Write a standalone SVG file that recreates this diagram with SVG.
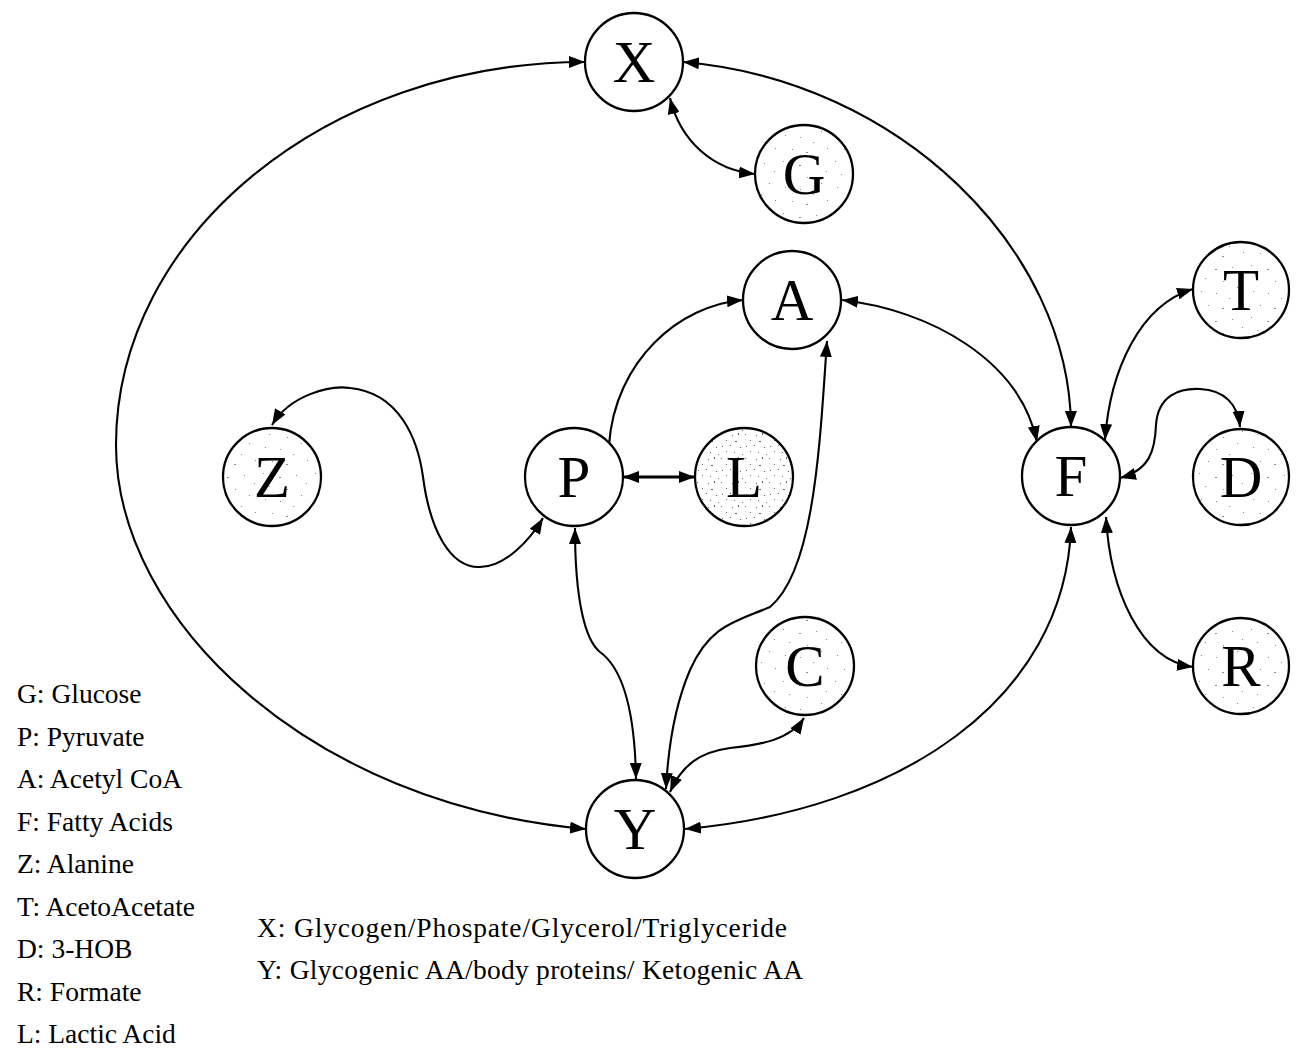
<svg xmlns="http://www.w3.org/2000/svg" width="1300" height="1057" viewBox="0 0 1300 1057">
  <style>
    .node circle { stroke: #000; stroke-width: 2.3; }
    .node text { font-family: "Liberation Serif", "Times New Roman", serif; font-size: 59px; text-anchor: middle; fill: #000; }
    .plain { fill: #fff; }
    .speck { fill: url(#speckle); }
    .dense { fill: url(#speckleDense); }
    .edge { fill: none; stroke: #000; stroke-width: 2.1; marker-end: url(#ah); }
    .both { marker-start: url(#ah); }
    .legend { font-family: "Liberation Serif", "Times New Roman", serif; font-size: 27.5px; fill: #000; }
  </style>
  <defs>
    <marker id="ah" viewBox="0 0 16 12" refX="16" refY="6" markerWidth="16" markerHeight="12" markerUnits="userSpaceOnUse" orient="auto-start-reverse">
      <path d="M0,0 L16,6 L0,12 z" fill="#000"/>
    </marker>
    <!-- light grain used on the outer metabolite nodes -->
    <pattern id="speckle" width="52" height="52" patternUnits="userSpaceOnUse">
      <rect width="52" height="52" fill="#fff"/>
      <g fill="#8a8a8a">
        <rect x="3" y="5" width="1" height="1"/><rect x="19" y="9" width="2" height="1"/>
        <rect x="36" y="7" width="1" height="1"/><rect x="46" y="15" width="1" height="1"/>
        <rect x="9" y="18" width="1" height="1"/><rect x="27" y="21" width="1" height="1"/>
        <rect x="41" y="27" width="1" height="1"/><rect x="5" y="31" width="1" height="1"/>
        <rect x="20" y="33" width="1" height="1"/><rect x="33" y="38" width="1" height="1"/>
        <rect x="12" y="45" width="1" height="1"/><rect x="26" y="48" width="2" height="1"/>
        <rect x="47" y="44" width="1" height="1"/>
      </g>
    </pattern>
    <!-- heavier grain for lactic acid -->
    <pattern id="speckleDense" width="24" height="24" patternUnits="userSpaceOnUse">
      <rect width="24" height="24" fill="#fff"/>
      <g fill="#6a6a6a">
        <rect x="1" y="2" width="1" height="1"/><rect x="12" y="3" width="1" height="1"/>
        <rect x="18" y="1" width="1" height="2"/><rect x="6" y="8" width="1" height="1"/>
        <rect x="15" y="9" width="2" height="1"/><rect x="2" y="14" width="1" height="1"/>
        <rect x="10" y="13" width="1" height="1"/><rect x="20" y="15" width="1" height="1"/>
        <rect x="6" y="19" width="1" height="1"/><rect x="14" y="20" width="1" height="1"/>
        <rect x="22" y="22" width="1" height="1"/>
      </g>
    </pattern>
  </defs>

  <rect width="1300" height="1057" fill="#fff"/>

  <g id="connectors">
    <!-- X <-> Y outer loop -->
    <path class="edge both" d="M585,62 C 326,62 116,236 116,445 C 116,620 310,805 586,829"/>
    <!-- X <-> G -->
    <path class="edge both" d="M670,98 C 680,140 712,170 755,174"/>
    <!-- X <-> F -->
    <path class="edge both" d="M683,62 C 900,80 1070,250 1071,427"/>
    <!-- P -> A -->
    <path class="edge" d="M609,445 C 615,360 680,305 743,300"/>
    <!-- P <-> L -->
    <path class="edge both" d="M623,477 L695,477" style="stroke-width:3.2"/>
    <!-- Z <-> P -->
    <path class="edge both" d="M272,425 C 290,395 330,385 350,388 C 400,393 418,440 423,477 C 430,530 450,568 480,567 C 505,567 530,540 543,518"/>
    <!-- P <-> Y -->
    <path class="edge both" d="M575,528 C 575,600 585,640 600,652 C 625,670 635,720 636,779"/>
    <!-- A <-> Y -->
    <path class="edge both" d="M827,341 C 820,440 815,570 770,607 C 735,622 710,625 690,670 C 675,705 668,750 666,789"/>
    <!-- C <-> Y -->
    <path class="edge both" d="M804,718 C 790,740 760,745 730,748 C 700,752 682,765 670,792"/>
    <!-- Y <-> F -->
    <path class="edge both" d="M685,829 C 900,810 1065,700 1071,527"/>
    <!-- A <-> F -->
    <path class="edge both" d="M842,300 C 930,310 1020,360 1037,442"/>
    <!-- F <-> T -->
    <path class="edge both" d="M1105,440 C 1110,370 1140,305 1193,289"/>
    <!-- F <-> D -->
    <path class="edge both" d="M1120,478 C 1150,470 1155,450 1156,425 C 1158,395 1180,388 1200,389 C 1225,390 1238,405 1240,427"/>
    <!-- F <-> R -->
    <path class="edge both" d="M1106,517 C 1110,590 1140,660 1193,667"/>
  </g>

  <g id="node-X" class="node"><circle class="plain" cx="634" cy="62" r="49"/><text x="634" y="82">X</text></g>
  <g id="node-G" class="node"><circle class="speck" cx="804" cy="174" r="49"/><text x="804" y="194">G</text></g>
  <g id="node-A" class="node"><circle class="plain" cx="792" cy="300" r="49"/><text x="792" y="320">A</text></g>
  <g id="node-T" class="node"><circle class="speck" cx="1241" cy="290" r="48"/><text x="1241" y="310">T</text></g>
  <g id="node-Z" class="node"><circle class="speck" cx="272" cy="477" r="49"/><text x="272" y="497">Z</text></g>
  <g id="node-P" class="node"><circle class="plain" cx="574" cy="477" r="49"/><text x="574" y="497">P</text></g>
  <g id="node-L" class="node"><circle class="dense" cx="744" cy="477" r="49"/><text x="744" y="497">L</text></g>
  <g id="node-F" class="node"><circle class="plain" cx="1071" cy="476" r="49"/><text x="1071" y="496">F</text></g>
  <g id="node-D" class="node"><circle class="speck" cx="1241" cy="477" r="48"/><text x="1241" y="497">D</text></g>
  <g id="node-C" class="node"><circle class="speck" cx="805" cy="666" r="49"/><text x="805" y="686">C</text></g>
  <g id="node-R" class="node"><circle class="speck" cx="1241" cy="666" r="48"/><text x="1241" y="686">R</text></g>
  <g id="node-Y" class="node"><circle class="plain" cx="635" cy="829" r="49"/><text x="635" y="849">Y</text></g>

  <g id="legend" class="legend">
    <text x="17" y="703">G: Glucose</text>
    <text x="17" y="745.5">P: Pyruvate</text>
    <text x="17" y="788">A: Acetyl CoA</text>
    <text x="17" y="830.5">F: Fatty Acids</text>
    <text x="17" y="873">Z: Alanine</text>
    <text x="17" y="915.5">T: AcetoAcetate</text>
    <text x="17" y="958">D: 3-HOB</text>
    <text x="17" y="1000.5">R: Formate</text>
    <text x="17" y="1043">L: Lactic Acid</text>
    <text x="257" y="937" textLength="530" lengthAdjust="spacing">X: Glycogen/Phospate/Glycerol/Triglyceride</text>
    <text x="257" y="979" textLength="546" lengthAdjust="spacing">Y: Glycogenic AA/body proteins/ Ketogenic AA</text>
  </g>
</svg>
